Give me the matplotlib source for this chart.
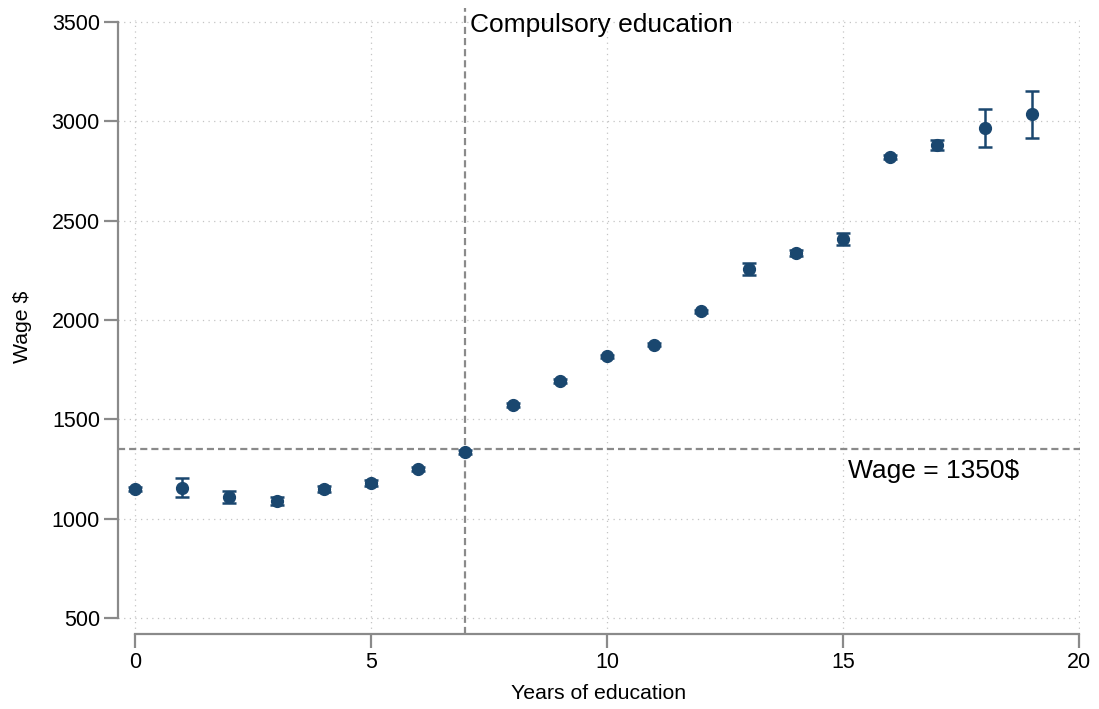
import matplotlib
matplotlib.use("Agg")
import matplotlib.pyplot as plt
import numpy as np

plt.rcParams['font.family'] = ['Liberation Sans', 'DejaVu Sans']

years = [0, 1, 2, 3, 4, 5, 6, 7, 8, 9, 10, 11, 12, 13, 14, 15, 16, 17, 18, 19]
wage = [1148, 1155, 1109, 1089, 1149, 1179, 1251, 1335, 1572, 1693, 1818, 1876,
        2044, 2256, 2337, 2409, 2820, 2881, 2968, 3035]
ci_half = [10, 48, 30, 22, 14, 14, 10, 8, 8, 8, 8, 8, 8, 30, 16, 31, 8, 27, 95, 118]
xticks = [0, 5, 10, 15, 20]
yticks = [500, 1000, 1500, 2000, 2500, 3000, 3500]
vline_x = 7
hline_y = 1350

navy = '#1a476f'
gray = '#8a8a8a'

fig = plt.figure(figsize=(10.99, 7.09), dpi=100)
ax = fig.add_axes([118/1099, 1 - 634/709, (1080-118)/1099, (634-20)/709])

ax.set_xlim(-0.36, 20.02)
ax.set_ylim(419, 3510)

for t in xticks:
    ax.axvline(t, color='#c4c4c4', lw=0.9, ls=(0, (1, 3.5)), zorder=0)
for t in yticks:
    ax.axhline(t, color='#c4c4c4', lw=0.9, ls=(0, (1, 3.5)), zorder=0)

ax.axvline(vline_x, ymin=0, ymax=1.02, color=gray, lw=1.6,
           ls=(0, (3.2, 1.8)), zorder=1, clip_on=False)
ax.axhline(hline_y, color=gray, lw=1.6, ls=(0, (3.2, 1.8)), zorder=1)

ax.errorbar(years, wage, yerr=ci_half, fmt='o', color=navy, ecolor=navy,
            ms=8.5, elinewidth=1.8, capsize=5, capthick=1.8, zorder=3)

ax.text(vline_x + 0.1, 3545, 'Compulsory education', fontsize=19,
        ha='left', va='top', color='black', clip_on=False)
ax.text(15.1, hline_y - 50, 'Wage = 1350$', fontsize=19,
        ha='left', va='top', color='black')

for s in ['top', 'right']:
    ax.spines[s].set_visible(False)
ax.spines['left'].set_bounds(500, 3500)
ax.spines['bottom'].set_bounds(0, 20)
for s in ['left', 'bottom']:
    ax.spines[s].set_color(gray)
    ax.spines[s].set_linewidth(1.6)

ax.set_xticks(xticks)
ax.set_yticks(yticks)
ax.tick_params(axis='both', colors=gray, length=10, width=1.6, labelsize=15.5,
               labelcolor='black', pad=3)

ax.set_xlabel('Years of education', fontsize=15.3, labelpad=8)
ax.set_ylabel('Wage $', fontsize=15.3, labelpad=14)

fig.savefig('out.png', dpi=100, facecolor='white')
